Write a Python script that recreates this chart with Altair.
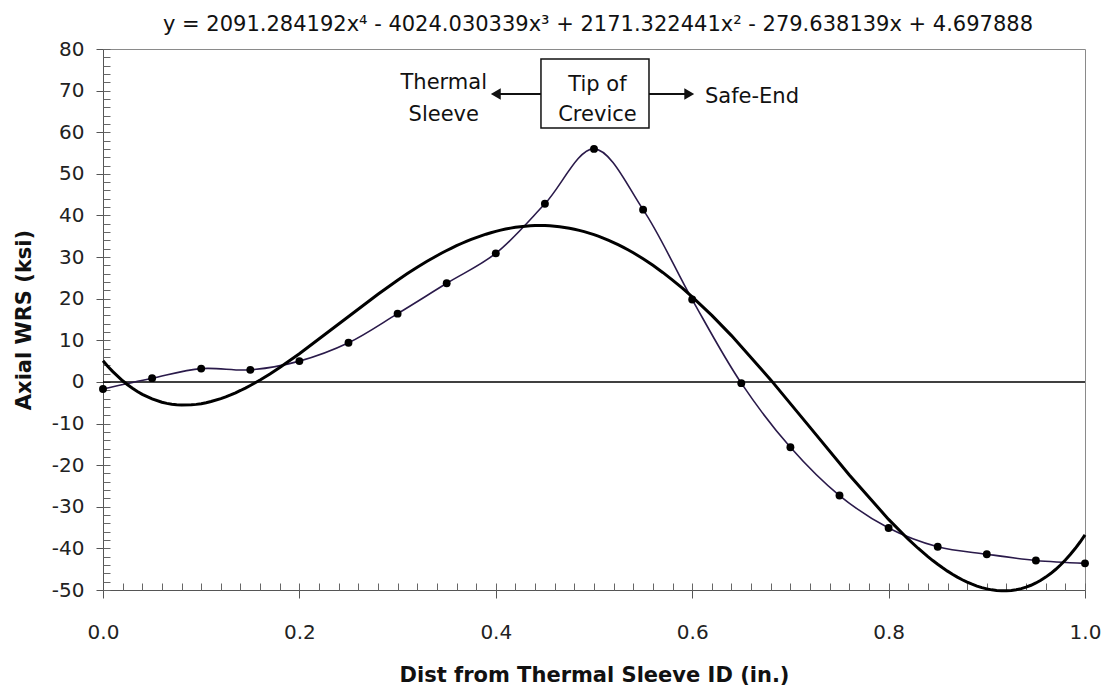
import altair as alt
import pandas as pd

# ---- data ----
dist_in = [0.00, 0.05, 0.10, 0.15, 0.20, 0.25, 0.30, 0.35, 0.40, 0.45, 0.50,
           0.55, 0.60, 0.65, 0.70, 0.75, 0.80, 0.85, 0.90, 0.95, 1.00]
axial_wrs_ksi = [-1.7, 0.9, 3.2, 2.9, 5.0, 9.4, 16.4, 23.7, 30.9, 42.8, 56.0,
                 41.4, 19.8, -0.3, -15.7, -27.3, -35.1, -39.6, -41.4, -42.9, -43.6]

x_ticks = [0.0, 0.2, 0.4, 0.6, 0.8, 1.0]
y_ticks = [-50, -40, -30, -20, -10, 0, 10, 20, 30, 40, 50, 60, 70, 80]
x_minor = [round(i * 0.02, 2) for i in range(51)]
y_minor = list(range(-50, 81, 2))

title_text = ("y = 2091.284192x\u2074 - 4024.030339x\u00b3 + 2171.322441x\u00b2 "
              "- 279.638139x + 4.697888")

# annotation (data coordinates)
center_labels = ["Thermal", "Sleeve", "Tip of", "Crevice"]
center_x = [0.347, 0.347, 0.5035, 0.5035]
center_y = [70.4, 62.7, 69.9, 62.7]
left_labels = ["Safe-End"]
left_x = [0.613]
left_y = [67.0]
box_x = [0.446]
box_x2 = [0.556]
box_y = [61.0]
box_y2 = [77.6]
arrow_x = [0.446, 0.556]
arrow_x2 = [0.400, 0.597]
arrow_y = [69.2, 69.2]
head_x = [0.400, 0.597]
head_shape = ["triangle-left", "triangle-right"]

FONT = "DejaVu Sans"
xscale = alt.Scale(domain=[0, 1], nice=False, zero=False)
yscale = alt.Scale(domain=[-50, 80], nice=False, zero=False)

df = pd.DataFrame({"x": dist_in, "y": axial_wrs_ksi})
base = alt.Chart(df)

main_x_axis = alt.Axis(
    orient="bottom", values=x_ticks, format=".1f", tickSize=8, tickColor="#555",
    domainColor="#555", labelFont=FONT, labelFontSize=20, labelColor="#222",
    labelPadding=24, labelFlush=False, grid=False,
    title="Dist from Thermal Sleeve ID (in.)", titleFont=FONT, titleFontSize=21,
    titleFontWeight="bold", titleColor="#111", titlePadding=22)
main_y_axis = alt.Axis(
    orient="left", values=y_ticks, tickSize=7, tickColor="#555",
    domainColor="#555", labelFont=FONT, labelFontSize=20, labelColor="#222",
    labelPadding=12, labelFlush=False, grid=False,
    labelExpr="(datum.value < 0 ? '-' : '') + abs(datum.value)",
    title="Axial WRS (ksi)", titleFont=FONT, titleFontSize=21,
    titleFontWeight="bold", titleColor="#111", titlePadding=17)

minor_x_axis = alt.Axis(orient="bottom", values=x_minor, tickSize=7, offset=-7,
                        tickColor="#666", labels=False, domain=False, grid=False,
                        title=None)
minor_y_axis = alt.Axis(orient="left", values=y_minor, tickSize=7, offset=-7,
                        tickColor="#666", labels=False, domain=False, grid=False,
                        title=None)

X = lambda field="x", axis=None: alt.X(f"{field}:Q", scale=xscale, axis=axis)
Y = lambda field="y", axis=None: alt.Y(f"{field}:Q", scale=yscale, axis=axis)

data_line = base.mark_line(interpolate="catmull-rom", color="#2a1a4a",
                           strokeWidth=1.6).encode(
    x=X(axis=main_x_axis), y=Y(axis=main_y_axis))

minor_x_layer = base.mark_point(opacity=0).encode(x=X(axis=minor_x_axis), y=Y())
minor_y_layer = base.mark_point(opacity=0).encode(x=X(), y=Y(axis=minor_y_axis))

zero_rule = alt.Chart(pd.DataFrame({"z": [0]})).mark_rule(
    color="black", strokeWidth=1.5).encode(y=Y("z"))

points = base.mark_circle(size=62, color="black", opacity=1).encode(x=X(), y=Y())

fit = base.transform_regression("x", "y", method="poly", order=4).mark_line(
    color="black", strokeWidth=3).encode(x=X(), y=Y())

ann_c = alt.Chart(pd.DataFrame({"t": center_labels, "x": center_x, "y": center_y})).mark_text(
    font=FONT, fontSize=21, align="center", baseline="alphabetic", color="#111").encode(
    x=X(), y=Y(), text="t:N")
ann_l = alt.Chart(pd.DataFrame({"t": left_labels, "x": left_x, "y": left_y})).mark_text(
    font=FONT, fontSize=21, align="left", baseline="alphabetic", color="#111").encode(
    x=X(), y=Y(), text="t:N")
box = alt.Chart(pd.DataFrame({"x": box_x, "x2": box_x2, "y": box_y, "y2": box_y2})).mark_rect(
    fill="white", stroke="#111", strokeWidth=1.5).encode(
    x=X(), x2="x2:Q", y=Y(), y2="y2:Q")
arrows = alt.Chart(pd.DataFrame({"x": arrow_x, "x2": arrow_x2, "y": arrow_y})).mark_rule(
    color="#111", strokeWidth=2).encode(x=X(), x2="x2:Q", y=Y())
heads = alt.Chart(pd.DataFrame({"x": head_x, "y": arrow_y, "s": head_shape})).mark_point(
    filled=True, color="#111", size=130, opacity=1).encode(
    x=X(), y=Y(), shape=alt.Shape("s:N", scale=None, legend=None))

chart = alt.layer(
    zero_rule, data_line, minor_x_layer, minor_y_layer, fit, points,
    arrows, heads, box, ann_c, ann_l,
).resolve_axis(x="independent", y="independent").properties(
    width=982, height=541,
    padding={"left": 95, "top": 41, "right": 17, "bottom": 96},
    autosize=alt.AutoSizeParams(type="none"),
    title=alt.Title(title_text, font=FONT, fontSize=21, fontWeight="normal",
                    color="#111", anchor="middle", frame="group", offset=4, dx=4),
    background="white",
).configure_view(stroke="#8a8a8a", strokeWidth=1)

chart.save("out.html", embed_options={"renderer": "svg", "actions": False})
